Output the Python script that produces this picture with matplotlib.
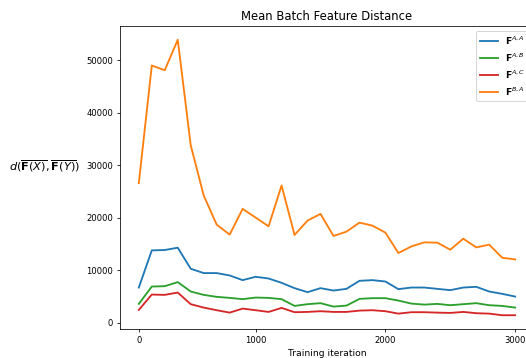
import matplotlib
matplotlib.use('Agg')
import matplotlib.pyplot as plt

# mean batch feature distance, one value per logged step
tick_pos = [0, 9, 19, 29]
tick_labels = ['0', '1000', '2000', '3000']

d_AA = [6690, 13770, 13840, 14280, 10270, 9445, 9445, 8990, 8100, 8740,
        8410, 7590, 6575, 5810, 6575, 6120, 6440, 7970, 8100, 7840,
        6385, 6690, 6690, 6440, 6190, 6690, 6830, 5930, 5490, 4970]
d_AB = [3575, 6880, 6950, 7725, 5930, 5295, 4915, 4720, 4475, 4780,
        4720, 4475, 3190, 3520, 3710, 3060, 3250, 4530, 4665, 4665,
        4205, 3630, 3440, 3575, 3325, 3520, 3710, 3325, 3190, 2870]
d_AC = [2430, 5350, 5295, 5735, 3520, 2870, 2370, 1910, 2680, 2370,
        2045, 2810, 1990, 2045, 2180, 2045, 2045, 2295, 2370, 2180,
        1720, 1990, 1990, 1910, 1855, 2045, 1800, 1720, 1415, 1415]
d_BA = [26580, 49000, 48100, 53900, 33800, 24230, 18680, 16770, 21680, 20020,
        18355, 26140, 16710, 19445, 20725, 16520, 17340, 19060, 18490, 17150,
        13270, 14530, 15300, 15240, 13900, 16000, 14340, 14860, 12370, 12045]

steps = list(range(len(d_AA)))

dpi = 70
fig = plt.figure(figsize=(526 / dpi, 358 / dpi), dpi=dpi)
ax = fig.add_axes([120 / 526, 1 - 329 / 358, 414 / 526, 303 / 358])

lw = 1.9
ax.plot(steps, d_AA, c='C0', lw=lw, label=r'$\mathbf{F}^{A,A}$')
ax.plot(steps, d_AB, c='C2', lw=lw, label=r'$\mathbf{F}^{A,B}$')
ax.plot(steps, d_AC, c='C3', lw=lw, label=r'$\mathbf{F}^{A,C}$')
ax.plot(steps, d_BA, c='C1', lw=lw, label=r'$\mathbf{F}^{B,A}$')

ax.set_xticks(tick_pos)
ax.set_xticklabels(tick_labels)
ax.tick_params(labelsize=8.8)
ax.set_title('Mean Batch Feature Distance', fontsize=12)
ax.set_xlabel('Training iteration', fontsize=9.4)
ax.set_ylabel(r'$d(\overline{\mathbf{F}(X)}, \overline{\mathbf{F}(Y)})$',
              fontsize=11.7, rotation=0, ha='right', va='center')
ax.yaxis.set_label_coords(-0.097, 0.536)
ax.legend(loc='upper right', fontsize=9.4)

fig.savefig('out.png', dpi=dpi)
